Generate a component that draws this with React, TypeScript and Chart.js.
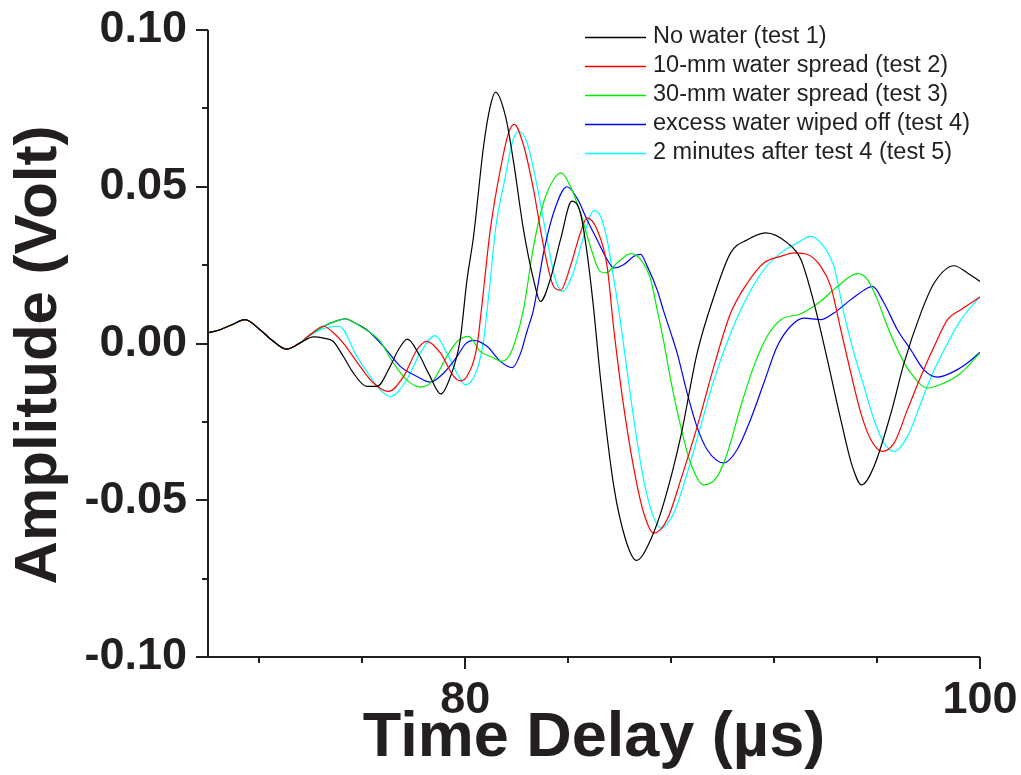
import { useEffect, useRef } from 'react';
import { Chart, registerables } from 'chart.js';

Chart.register(...registerables);

// ---------- data ----------
const xTickValues = [72, 76, 80, 84, 88, 92, 96, 100];
const xLabelValues = [80, 100];
const yTickValues = [-0.1, -0.075, -0.05, -0.025, 0, 0.025, 0.05, 0.075, 0.1];
const yLabelValues = [-0.1, -0.05, 0, 0.05, 0.1];

const seriesLabels = [
  'No water (test 1)',
  '10-mm water spread (test 2)',
  '30-mm water spread (test 3)',
  'excess water wiped off (test 4)',
  '2 minutes after test 4 (test 5)',
];
const seriesColors = ['#000000', '#ff0000', '#00ee00', '#0000ff', '#00ffff'];

// [time (µs), amplitude (V)]
const noWater: [number, number][] = [
  [70, 0.0034], [70.47, 0.0044], [70.93, 0.006], [71.44, 0.0076], [72.02, 0.0044], [72.54, 0.0007],
  [73.06, -0.0018], [73.58, 0.0002], [74.1, 0.0021], [74.5, 0.0017], [74.86, 0.0007], [75.25, -0.004],
  [75.64, -0.0093], [76.17, -0.0137], [76.56, -0.0137], [77.08, -0.0073], [77.4, -0.002], [77.75, 0.0014],
  [78.2, -0.0035], [78.6, -0.01], [79.05, -0.0161], [79.4, -0.011], [79.8, 0.0012], [80.06, 0.02],
  [80.32, 0.0342], [80.71, 0.063], [80.97, 0.0757], [81.17, 0.0802], [81.56, 0.0725], [81.88, 0.0576],
  [82.26, 0.0363], [82.65, 0.0204], [82.92, 0.0134], [83.3, 0.0204], [83.7, 0.0332], [84.14, 0.0454],
  [84.47, 0.0417], [84.73, 0.0289], [84.99, 0.0108], [85.25, -0.011], [85.77, -0.0456], [86.23, -0.0626],
  [86.65, -0.0692], [87.2, -0.0626], [87.71, -0.0509], [88.37, -0.0297], [89.01, -0.003], [89.66, 0.015],
  [90.31, 0.0289], [90.96, 0.0331], [91.67, 0.0353], [92.51, 0.0321], [93.04, 0.0268], [93.55, 0.0129],
  [94.07, -0.0052], [94.59, -0.0243], [95.04, -0.0392], [95.4, -0.0451], [95.88, -0.0392], [96.54, -0.0222],
  [97.05, -0.0062], [97.7, 0.0097], [98.22, 0.0193], [98.99, 0.0248], [99.51, 0.0225], [100, 0.0198],
];

const spread10mm: [number, number][] = [
  [70, 0.0034], [70.47, 0.0044], [70.93, 0.006], [71.44, 0.0076], [72.02, 0.0044], [72.54, 0.0007],
  [73.06, -0.0018], [73.58, 0.0002], [74.0, 0.003], [74.49, 0.0055], [74.86, 0.0035], [75.25, 0.0002],
  [75.91, -0.0073], [76.43, -0.0126], [77.01, -0.0153], [77.6, -0.0105], [78.12, -0.002], [78.5, 0.0007],
  [79.03, -0.003], [79.55, -0.0105], [79.8, -0.0119], [80.06, -0.0105], [80.45, -0.001], [80.6, 0.009],
  [80.97, 0.0363], [81.36, 0.0555], [81.68, 0.0672], [81.9, 0.0699], [82.27, 0.063], [82.65, 0.0491],
  [83.04, 0.031], [83.43, 0.0182], [83.7, 0.017], [84.08, 0.0246], [84.47, 0.0353], [84.73, 0.0401],
  [85.12, 0.0363], [85.51, 0.0246], [85.75, 0.006], [86.1, -0.017], [86.55, -0.04], [86.93, -0.054],
  [87.32, -0.0605], [87.84, -0.0562], [88.37, -0.0435], [89.01, -0.0265], [89.66, -0.0073], [90.31, 0.0097],
  [90.96, 0.0193], [91.6, 0.0257], [92.26, 0.0278], [92.78, 0.0289], [93.3, 0.0284], [93.81, 0.0246],
  [94.2, 0.0182], [94.59, 0.0044], [94.98, -0.0094], [95.37, -0.0222], [95.76, -0.0307], [96.2, -0.0344],
  [96.66, -0.0318], [97.18, -0.0211], [97.7, -0.0105], [98.22, -0.0009], [98.74, 0.0076], [99.26, 0.0108],
  [100, 0.0148],
];

const spread30mm: [number, number][] = [
  [70, 0.0034], [70.47, 0.0044], [70.93, 0.006], [71.44, 0.0076], [72.02, 0.0044], [72.54, 0.0007],
  [73.06, -0.0018], [73.58, 0.0002], [73.97, 0.0028], [74.5, 0.0055], [75.0, 0.0072], [75.33, 0.0079],
  [75.91, 0.0055], [76.69, 0.0007], [77.2, -0.0062], [77.72, -0.0116], [78.25, -0.0139], [78.77, -0.0116],
  [79.28, -0.0041], [79.7, 0.0008], [80.12, 0.0023], [80.58, -0.0025], [81.1, -0.0046], [81.4, -0.0057],
  [81.7, -0.004], [81.95, 0.001], [82.26, 0.0108], [82.65, 0.031], [83.04, 0.0449], [83.43, 0.0523],
  [83.72, 0.0544], [84.08, 0.0502], [84.47, 0.0417], [84.86, 0.031], [85.18, 0.0236], [85.45, 0.0225],
  [85.9, 0.0257], [86.42, 0.0287], [86.81, 0.0268], [87.2, 0.0204], [87.45, 0.011], [87.7, 0.001],
  [87.98, -0.0116], [88.37, -0.0265], [88.75, -0.0381], [89.27, -0.0451], [89.79, -0.0424], [90.18, -0.035],
  [90.7, -0.0201], [91.21, -0.0073], [91.73, 0.0023], [92.26, 0.0076], [93.04, 0.0095], [93.81, 0.0135],
  [94.46, 0.0182], [95.24, 0.0223], [95.63, 0.0204], [96.01, 0.014], [96.4, 0.0055], [96.92, -0.0041],
  [97.31, -0.0094], [97.96, -0.0142], [98.6, -0.0126], [99.26, -0.0094], [100, -0.003],
];

const wipedOff: [number, number][] = [
  [70, 0.0034], [70.47, 0.0044], [70.93, 0.006], [71.44, 0.0076], [72.02, 0.0044], [72.54, 0.0007],
  [73.06, -0.0018], [73.58, 0.0002], [73.97, 0.0028], [74.5, 0.0055], [75.0, 0.0072], [75.33, 0.0079],
  [75.7, 0.0066], [76.17, 0.0044], [76.82, -0.0009], [77.47, -0.0073], [78.12, -0.0105], [78.64, -0.0123],
  [79.16, -0.0094], [79.68, -0.0041], [80.0, -0.0002], [80.32, 0.001], [80.84, -0.0009], [81.36, -0.0057],
  [81.83, -0.0077], [82.15, -0.003], [82.4, 0.004], [82.65, 0.0108], [83.04, 0.0289], [83.43, 0.0417],
  [83.95, 0.05], [84.34, 0.0464], [84.73, 0.0395], [85.12, 0.0331], [85.51, 0.0268], [85.77, 0.0241],
  [86.16, 0.0252], [86.55, 0.0278], [86.81, 0.0284], [87.07, 0.0246], [87.45, 0.0172], [87.7, 0.0105],
  [88.0, 0.003], [88.23, -0.003], [88.62, -0.0158], [89.0, -0.0265], [89.4, -0.0339], [90.04, -0.0381],
  [90.56, -0.0339], [91.08, -0.0243], [91.6, -0.0126], [92.12, -0.0009], [92.64, 0.0055], [93.16, 0.0081],
  [93.81, 0.0076], [94.32, 0.0097], [94.98, 0.014], [95.63, 0.0177], [95.82, 0.0182], [96.27, 0.0129],
  [96.79, 0.0044], [97.31, -0.002], [97.82, -0.0084], [98.35, -0.0107], [98.99, -0.0089], [99.51, -0.0062],
  [100, -0.0028],
];

const afterTwoMin: [number, number][] = [
  [70, 0.0034], [70.47, 0.0044], [70.93, 0.006], [71.44, 0.0076], [72.02, 0.0044], [72.54, 0.0007],
  [73.06, -0.0018], [73.58, 0.0002], [74.0, 0.0028], [74.5, 0.0048], [75.1, 0.0055], [75.78, -0.0041],
  [76.3, -0.0105], [76.69, -0.0148], [77.08, -0.0169], [77.72, -0.0116], [78.25, -0.003], [78.83, 0.0025],
  [79.28, -0.003], [79.67, -0.0094], [80.0, -0.0132], [80.45, -0.0084], [80.71, 0.001], [80.85, 0.011],
  [80.97, 0.02], [81.17, 0.0363], [81.56, 0.0534], [81.82, 0.064], [82.07, 0.0677], [82.4, 0.064],
  [82.79, 0.0502], [83.18, 0.0331], [83.5, 0.0204], [83.76, 0.0166], [84.14, 0.0214], [84.6, 0.0342],
  [84.99, 0.0424], [85.25, 0.0406], [85.51, 0.0331], [85.77, 0.0204], [85.96, 0.0108], [86.16, -0.001],
  [86.55, -0.0243], [86.93, -0.0435], [87.26, -0.0541], [87.59, -0.0589], [88.1, -0.0541], [88.62, -0.0414],
  [89.14, -0.0265], [89.66, -0.0116], [90.31, 0.0033], [90.96, 0.015], [91.6, 0.0236], [92.26, 0.0289],
  [92.9, 0.0321], [93.42, 0.0342], [93.81, 0.0321], [94.32, 0.0246], [94.71, 0.0097], [95.1, -0.003],
  [95.49, -0.0137], [95.88, -0.0243], [96.27, -0.0318], [96.66, -0.0344], [97.18, -0.0297], [97.7, -0.019],
  [98.22, -0.0084], [98.74, 0.0001], [99.26, 0.0076], [100, 0.015],
];

const seriesData = [noWater, spread10mm, spread30mm, wipedOff, afterTwoMin];

const xTitle = 'Time Delay (µs)';
const yTitle = 'Amplitude (Volt)';

// ---------- styling ----------
const FONT = '"Liberation Sans", Arial, Helvetica, sans-serif';
const TEXT_COLOR = '#231f20';
const AXIS_COLOR = '#231f20';

const isIn = (v: number, list: number[]) => list.some((l) => Math.abs(l - v) < 1e-9);

const decorPlugin = {
  id: 'decor',
  afterDatasetsDraw(chart: any) {
    const { ctx, chartArea, scales } = chart;
    const xs = scales.x;
    const ys = scales.y;
    ctx.save();
    ctx.strokeStyle = AXIS_COLOR;
    ctx.lineWidth = 2;
    ctx.lineCap = 'butt';
    ctx.beginPath();
    ctx.moveTo(chartArea.left, chartArea.top);
    ctx.lineTo(chartArea.left, chartArea.bottom + 1);
    ctx.moveTo(chartArea.left - 1, chartArea.bottom);
    ctx.lineTo(chartArea.right, chartArea.bottom);
    ys.ticks.forEach((t: any) => {
      const y = Math.round(ys.getPixelForValue(t.value));
      const len = isIn(t.value, yLabelValues) ? 12 : 6;
      ctx.moveTo(chartArea.left - len, y);
      ctx.lineTo(chartArea.left, y);
    });
    xs.ticks.forEach((t: any) => {
      const x = Math.round(xs.getPixelForValue(t.value));
      const len = isIn(t.value, xLabelValues) ? 12 : 6;
      ctx.moveTo(x, chartArea.bottom);
      ctx.lineTo(x, chartArea.bottom + len);
    });
    ctx.stroke();

    // tick labels
    ctx.fillStyle = TEXT_COLOR;
    ctx.font = `bold 45px ${FONT}`;
    ctx.textAlign = 'right';
    ctx.textBaseline = 'middle';
    ys.ticks.forEach((t: any) => {
      if (!isIn(t.value, yLabelValues)) return;
      const y = ys.getPixelForValue(t.value);
      ctx.fillText(Number(t.value).toFixed(2), chartArea.left - 21, y);
    });
    ctx.textAlign = 'center';
    ctx.textBaseline = 'alphabetic';
    xs.ticks.forEach((t: any) => {
      if (!isIn(t.value, xLabelValues)) return;
      const x = xs.getPixelForValue(t.value);
      ctx.fillText(String(t.value), x, chartArea.bottom + 56);
    });
    ctx.restore();
  },
  afterDraw(chart: any) {
    const { ctx, chartArea } = chart;
    ctx.save();
    // axis titles
    ctx.fillStyle = TEXT_COLOR;
    ctx.font = `bold 63px ${FONT}`;
    ctx.textAlign = 'center';
    ctx.textBaseline = 'alphabetic';
    ctx.fillText(xTitle, (chartArea.left + chartArea.right) / 2, 756);
    ctx.save();
    ctx.translate(56, 355);
    ctx.rotate(-Math.PI / 2);
    ctx.font = `bold 60px ${FONT}`;
    ctx.fillText(yTitle, 0, 0);
    ctx.restore();

    // legend
    ctx.font = `23.5px ${FONT}`;
    ctx.textAlign = 'left';
    ctx.textBaseline = 'middle';
    chart.data.datasets.forEach((ds: any, i: number) => {
      const y = 37 + i * 29;
      ctx.strokeStyle = ds.borderColor;
      ctx.lineWidth = 1.3;
      ctx.beginPath();
      ctx.moveTo(585, y + 0.5);
      ctx.lineTo(646, y + 0.5);
      ctx.stroke();
      ctx.fillStyle = TEXT_COLOR;
      ctx.fillText(ds.label, 653, y);
    });
    ctx.restore();
  },
};

export default function App() {
  const canvasRef = useRef<HTMLCanvasElement | null>(null);

  useEffect(() => {
    document.body.style.margin = '0';
    const canvas = canvasRef.current;
    if (!canvas) return;
    const chart = new Chart(canvas, {
      type: 'line',
      data: {
        datasets: seriesData.map((s, i) => ({
          label: seriesLabels[i],
          data: s.map(([x, y]) => ({ x, y })),
          borderColor: seriesColors[i],
          backgroundColor: seriesColors[i],
          borderWidth: 1.2,
          pointRadius: 0,
          cubicInterpolationMode: 'monotone',
          fill: false,
        })),
      },
      options: {
        responsive: false,
        animation: false,
        devicePixelRatio: 1,
        layout: { padding: { top: 30, right: 41, left: 0, bottom: 0 } },
        plugins: {
          legend: { display: false },
          tooltip: { enabled: false },
        },
        scales: {
          x: {
            type: 'linear',
            min: 70,
            max: 100,
            afterBuildTicks: (axis: any) => {
              axis.ticks = xTickValues.map((value) => ({ value }));
            },
            afterFit: (axis: any) => {
              axis.height = 118;
            },
            grid: { display: false },
            border: { display: false },
            ticks: { display: false },
          },
          y: {
            type: 'linear',
            min: -0.1,
            max: 0.1,
            afterBuildTicks: (axis: any) => {
              axis.ticks = yTickValues.map((value) => ({ value }));
            },
            afterFit: (axis: any) => {
              axis.width = 208;
            },
            grid: { display: false },
            border: { display: false },
            ticks: { display: false },
          },
        },
      } as any,
      plugins: [decorPlugin],
    });
    return () => chart.destroy();
  }, []);

  return (
    <canvas
      ref={canvasRef}
      width={1021}
      height={775}
      style={{ display: 'block', width: 1021, height: 775 }}
    />
  );
}
